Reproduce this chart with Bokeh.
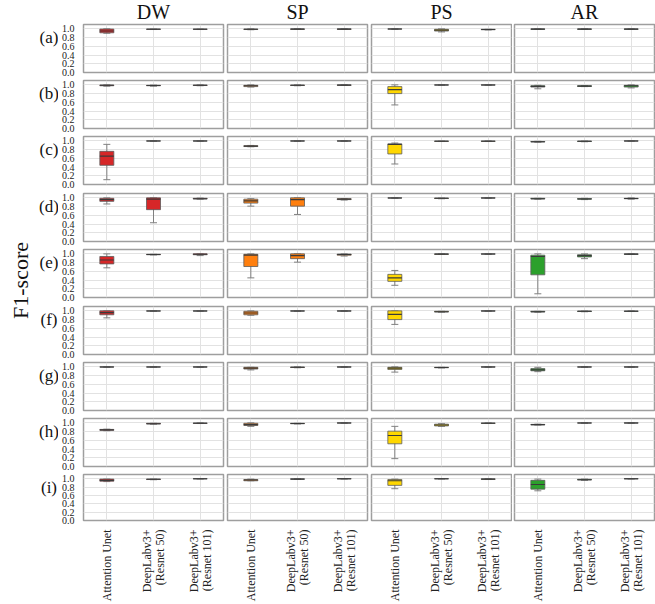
import math
from bokeh.plotting import figure
from bokeh.models import ColumnDataSource, Range1d, FixedTicker, Label, Whisker, TeeHead
from bokeh.layouts import gridplot, row, column
from bokeh.embed import file_html
from bokeh.resources import INLINE

# ---------------- data ----------------
metrics = ["DW", "SP", "PS", "AR"]
row_labels = ["(a)", "(b)", "(c)", "(d)", "(e)", "(f)", "(g)", "(h)", "(i)"]
models = ["Attention Unet", "DeepLabv3+\n(Resnet 50)", "DeepLabv3+\n(Resnet 101)"]
y_ticks = [0.0, 0.2, 0.4, 0.6, 0.8, 1.0]
y_axis_label = "F1-score"

# each list: 9 rows (a..i) x 3 models [Attention Unet, DLv3+ R50, DLv3+ R101]
dw_low = [[0.90, 0.985, 0.985], [0.97, 0.97, 0.98], [0.11, 0.995, 0.995], [0.86, 0.43, 0.97], [0.68, 0.975, 0.96], [0.84, 0.995, 0.995], [0.995, 0.995, 0.995], [0.82, 0.97, 0.985], [0.93, 0.975, 0.995]]
dw_q1 = [[0.91, 0.99, 0.99], [0.98, 0.98, 0.985], [0.44, 0.997, 0.997], [0.92, 0.73, 0.975], [0.77, 0.98, 0.98], [0.91, 0.997, 0.997], [0.997, 0.997, 0.997], [0.83, 0.975, 0.99], [0.94, 0.98, 0.997]]
dw_med = [[0.95, 0.99, 0.99], [0.99, 0.985, 0.99], [0.65, 0.998, 0.998], [0.96, 0.97, 0.98], [0.86, 0.985, 0.99], [0.96, 0.998, 0.998], [0.998, 0.998, 0.998], [0.84, 0.98, 0.99], [0.96, 0.985, 0.998]]
dw_q3 = [[0.995, 0.995, 0.995], [0.995, 0.99, 0.995], [0.76, 0.999, 0.999], [0.99, 1.0, 0.99], [0.94, 0.99, 1.0], [1.0, 0.999, 0.999], [0.999, 0.999, 0.999], [0.85, 0.99, 0.995], [0.99, 0.99, 0.999]]
dw_high = [[1.0, 0.995, 0.995], [1.0, 0.995, 1.0], [0.92, 1.0, 1.0], [1.0, 1.0, 0.995], [1.0, 0.99, 1.0], [1.0, 1.0, 1.0], [1.0, 1.0, 1.0], [0.855, 0.99, 1.0], [0.99, 0.99, 1.0]]

sp_low = [[0.98, 0.99, 0.99], [0.95, 0.98, 0.99], [0.865, 0.995, 0.995], [0.81, 0.62, 0.95], [0.45, 0.81, 0.95], [0.90, 0.995, 0.995], [0.93, 0.98, 0.995], [0.92, 0.975, 0.995], [0.95, 0.985, 0.995]]
sp_q1 = [[0.985, 0.992, 0.992], [0.96, 0.985, 0.992], [0.87, 0.997, 0.997], [0.88, 0.81, 0.96], [0.71, 0.89, 0.97], [0.91, 0.997, 0.997], [0.95, 0.985, 0.997], [0.94, 0.98, 0.997], [0.95, 0.99, 0.997]]
sp_med = [[0.99, 0.995, 0.995], [0.98, 0.99, 0.995], [0.88, 0.998, 0.998], [0.93, 0.96, 0.97], [0.97, 0.96, 0.985], [0.95, 0.998, 0.998], [0.97, 0.99, 0.998], [0.96, 0.985, 0.998], [0.97, 0.99, 0.998]]
sp_q3 = [[0.995, 0.997, 0.997], [0.99, 0.995, 0.997], [0.89, 0.999, 0.999], [0.97, 1.0, 0.98], [0.99, 1.0, 0.995], [0.99, 0.999, 0.999], [0.99, 0.995, 0.999], [0.99, 0.99, 0.999], [0.98, 0.995, 0.999]]
sp_high = [[1.0, 1.0, 1.0], [1.0, 1.0, 1.0], [0.895, 1.0, 1.0], [0.98, 1.0, 0.985], [1.0, 1.0, 1.0], [1.0, 1.0, 1.0], [0.99, 1.0, 1.0], [1.0, 0.99, 1.0], [0.99, 1.0, 1.0]]

ps_low = [[0.99, 0.93, 0.975], [0.54, 0.995, 0.995], [0.47, 0.985, 0.985], [0.995, 0.98, 0.995], [0.28, 0.99, 0.99], [0.69, 0.97, 0.995], [0.88, 0.975, 0.995], [0.18, 0.92, 0.985], [0.76, 0.995, 0.98]]
ps_q1 = [[0.995, 0.95, 0.98], [0.80, 0.997, 0.997], [0.70, 0.99, 0.99], [0.997, 0.985, 0.997], [0.37, 0.992, 0.995], [0.80, 0.975, 0.997], [0.94, 0.98, 0.997], [0.52, 0.93, 0.99], [0.84, 0.997, 0.985]]
ps_med = [[0.997, 0.97, 0.985], [0.89, 0.998, 0.998], [0.92, 0.99, 0.99], [0.998, 0.99, 0.998], [0.45, 0.995, 0.997], [0.92, 0.98, 0.998], [0.97, 0.985, 0.998], [0.71, 0.95, 0.99], [0.95, 0.998, 0.99]]
ps_q3 = [[0.999, 0.99, 0.99], [0.96, 0.999, 0.999], [0.93, 0.995, 0.995], [0.999, 0.995, 0.999], [0.53, 0.997, 0.999], [1.0, 0.99, 0.999], [0.99, 0.99, 0.999], [0.81, 0.97, 0.995], [0.98, 0.999, 0.995]]
ps_high = [[1.0, 1.0, 0.99], [1.0, 1.0, 1.0], [0.95, 0.995, 1.0], [1.0, 0.995, 1.0], [0.62, 1.0, 1.0], [1.0, 0.99, 1.0], [1.0, 0.99, 1.0], [0.92, 0.98, 1.0], [0.99, 1.0, 1.0]]

ar_low = [[0.99, 0.99, 0.99], [0.91, 0.96, 0.93], [0.97, 0.98, 0.995], [0.97, 0.96, 0.97], [0.085, 0.89, 0.99], [0.97, 0.98, 0.985], [0.89, 0.995, 0.995], [0.95, 0.995, 0.995], [0.71, 0.96, 0.995]]
ar_q1 = [[0.992, 0.992, 0.992], [0.95, 0.965, 0.95], [0.975, 0.985, 0.997], [0.975, 0.97, 0.98], [0.52, 0.93, 0.992], [0.975, 0.985, 0.99], [0.91, 0.997, 0.997], [0.955, 0.997, 0.997], [0.75, 0.97, 0.997]]
ar_med = [[0.995, 0.995, 0.995], [0.965, 0.97, 0.98], [0.98, 0.99, 0.998], [0.98, 0.975, 0.985], [0.94, 0.96, 0.995], [0.98, 0.99, 0.99], [0.93, 0.998, 0.998], [0.96, 0.998, 0.998], [0.86, 0.975, 0.998]]
ar_q3 = [[0.997, 0.997, 0.997], [0.98, 0.98, 0.99], [0.985, 0.995, 0.999], [0.99, 0.985, 0.99], [0.97, 0.98, 0.997], [0.99, 0.995, 0.995], [0.96, 0.999, 0.999], [0.965, 0.999, 0.999], [0.96, 0.985, 0.999]]
ar_high = [[1.0, 1.0, 1.0], [0.99, 0.985, 1.0], [0.99, 0.995, 1.0], [0.99, 0.99, 1.0], [1.0, 1.0, 1.0], [0.99, 0.995, 1.0], [0.99, 1.0, 1.0], [0.97, 1.0, 1.0], [0.99, 0.99, 1.0]]

metric_colors = ["#d62728", "#ff7f0e", "#ffd700", "#2ca02c"]

stats = {
    "DW": (dw_low, dw_q1, dw_med, dw_q3, dw_high),
    "SP": (sp_low, sp_q1, sp_med, sp_q3, sp_high),
    "PS": (ps_low, ps_q1, ps_med, ps_q3, ps_high),
    "AR": (ar_low, ar_q1, ar_med, ar_q3, ar_high),
}

# ---------------- layout constants ----------------
SERIF = "Liberation Serif"
FW, FH = 140, 48
HEADER_H = 22
LABEL_W = 58
xs = list(range(1, len(models) + 1))

def borders(r, c):
    left = 25 if c == 0 else 2
    right = 2 if c < 2 else 1
    top = 2
    bottom = 82 if r == 8 else (7 if r in (2, 4) else 6)
    return left, right, top, bottom

panels = []
frame_tops = []
ycur = HEADER_H
for r in range(9):
    prow = []
    for c, m in enumerate(metrics):
        left, right, top, bottom = borders(r, c)
        if c == 0:
            frame_tops.append(ycur + top)
        low, q1, med, q3, high = stats[m]
        p = figure(width=left + FW + right, height=top + FH + bottom,
                   x_range=Range1d(0.5, 3.5), y_range=Range1d(0, 1.1),
                   output_backend="svg", toolbar_location=None,
                   x_axis_location="below" if r == 8 else None,
                   y_axis_location="left" if c == 0 else None,
                   min_border_left=left, min_border_right=right,
                   min_border_top=top, min_border_bottom=bottom)
        p.outline_line_color = "#9e9e9e"
        p.outline_line_width = 1.5
        p.background_fill_color = "white"
        p.border_fill_color = "white"
        p.xgrid.ticker = FixedTicker(ticks=xs)
        p.ygrid.ticker = FixedTicker(ticks=y_ticks)
        p.xgrid.grid_line_color = "#e2e2e2"
        p.ygrid.grid_line_color = "#e2e2e2"
        p.xgrid.grid_line_width = 1
        p.ygrid.grid_line_width = 1

        src = ColumnDataSource(dict(x=xs, low=low[r], q1=q1[r], med=med[r], q3=q3[r], high=high[r]))
        wh = Whisker(base="x", lower="low", upper="high", source=src,
                     line_color="#808080", line_width=1,
                     lower_head=TeeHead(size=7, line_color="#808080", line_width=1),
                     upper_head=TeeHead(size=7, line_color="#808080", line_width=1))
        p.add_layout(wh)
        p.vbar(x="x", width=0.3, bottom="q1", top="q3", source=src,
               fill_color=metric_colors[c], line_color="#5c5c5c", line_width=0.8)
        p.scatter(x="x", y="med", source=src, marker="dash", size=14,
                  line_color="#3a3a3a", line_width=1.1)

        if c == 0:
            ax = p.yaxis[0]
            ax.ticker = FixedTicker(ticks=y_ticks)
            ax.major_label_overrides = {t: f"{t:.1f}" for t in y_ticks}
            ax.major_label_text_font = SERIF
            ax.major_label_text_font_size = "10px"
            ax.major_label_text_color = "#222222"
            ax.major_label_standoff = 3
            ax.axis_line_color = None
            ax.major_tick_line_color = None
            ax.minor_tick_line_color = None
        if r == 8:
            ax = p.xaxis[0]
            ax.ticker = FixedTicker(ticks=xs)
            ax.major_label_overrides = {x: lab for x, lab in zip(xs, models)}
            ax.major_label_orientation = math.pi / 2
            ax.major_label_text_font = SERIF
            ax.major_label_text_font_size = "12px"
            ax.major_label_text_line_height = 0.95
            ax.major_label_text_color = "#222222"
            ax.major_label_standoff = 3
            ax.axis_line_color = None
            ax.major_tick_line_color = None
            ax.minor_tick_line_color = None
        prow.append(p)
    panels.append(prow)
    ycur += top + FH + bottom

grid_h = ycur - HEADER_H
grid = gridplot(panels, toolbar_location=None)

# header with column titles
col_centers = []
xcur = LABEL_W
for c in range(4):
    left, right, _, _ = borders(0, c)
    col_centers.append(xcur + left + FW / 2)
    xcur += left + FW + right
total_w = xcur

header = figure(width=total_w, height=HEADER_H, x_range=Range1d(0, total_w), y_range=Range1d(HEADER_H, 0),
                output_backend="svg", toolbar_location=None, x_axis_location=None, y_axis_location=None,
                min_border=0, outline_line_color=None)
header.grid.visible = False
for cx, m in zip(col_centers, metrics):
    header.add_layout(Label(x=cx, y=11, text=m, text_align="center", text_baseline="middle",
                            text_font=SERIF, text_font_size="20px", text_color="#111111"))

# left strip with row labels and y-axis title
lab = figure(width=LABEL_W, height=grid_h, x_range=Range1d(0, LABEL_W), y_range=Range1d(HEADER_H + grid_h, HEADER_H),
             output_backend="svg", toolbar_location=None, x_axis_location=None, y_axis_location=None,
             min_border=0, outline_line_color=None)
lab.grid.visible = False
for ft, rl in zip(frame_tops, row_labels):
    lab.add_layout(Label(x=48.5, y=ft + 13, text=rl, text_align="center", text_baseline="middle",
                         text_font=SERIF, text_font_size="17px", text_color="#111111"))
lab.add_layout(Label(x=20, y=280, text=y_axis_label, angle=math.pi / 2, text_align="center",
                     text_baseline="middle", text_font=SERIF, text_font_size="22px", text_color="#111111"))

layout = column(header, row(lab, grid))
open("out.html", "w").write(file_html(layout, INLINE))
